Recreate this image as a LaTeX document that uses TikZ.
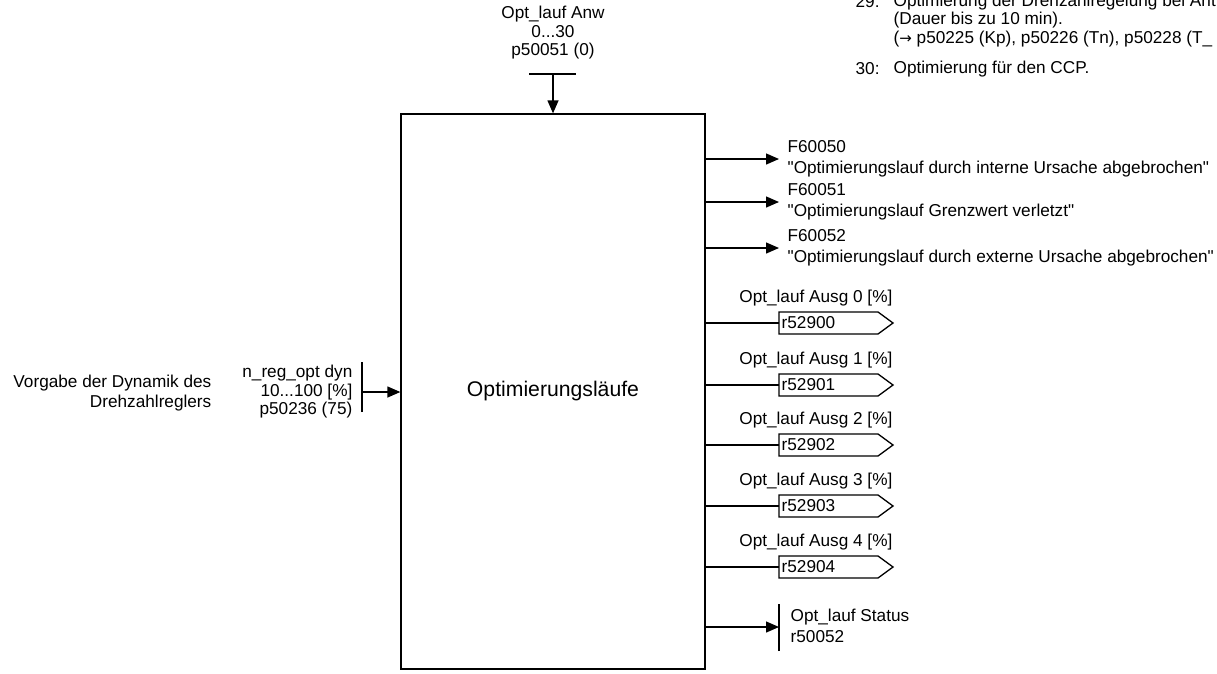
\documentclass[tikz,border=0pt]{standalone}
\usepackage{fontspec}
\setmainfont{Liberation Sans}[Ligatures=TeXOff]
\newfontfamily\arrowfont{DejaVu Sans}
\usetikzlibrary{arrows.meta}
\begin{document}
\begin{tikzpicture}[x=1pt,y=-1pt,
  line width=1.3pt,
  txt/.style={font=\fontsize{17.2}{18.5}\selectfont, inner sep=0pt, align=left},
  sig/.style={-{Triangle[length=13pt,width=11pt]}},
  bar/.style={line width=1.3pt}]
\useasboundingbox (0,0) rectangle (1217,673);

% main function block
\node[draw, minimum width=304pt, minimum height=555pt, inner sep=0pt,
      font=\fontsize{21.2}{24}\selectfont] (box) at (553,391.5) {Optimierungsläufe};

% parameter input at the top
\node[txt, align=center] (anw) at (553,33) {Opt\_lauf Anw\\0...30\\p50051 (0)};
\coordinate (anwbar) at (553,74);
\draw[bar] ([xshift=-24pt]anwbar) -- ([xshift=23pt]anwbar);
\draw[sig] (anwbar) -- (box.north);

% parameter input on the left
\node[txt, align=right, anchor=east] (dyn) at (353,392) {n\_reg\_opt dyn\\10...100 [\%]\\p50236 (75)};
\node[txt, align=right, anchor=east, font=\fontsize{17.2}{20}\selectfont] (dyndesc) at (212,393) {Vorgabe der Dynamik des\\Drehzahlreglers};
\coordinate (dynbar) at (362,392);
\draw[bar] ([yshift=-20pt]dynbar) -- ([yshift=30pt]dynbar);
\draw[sig] (dynbar) -- (dynbar -| box.west);

% fault outputs
\foreach \y/\code/\msg [count=\i] in {
    159/F60050/"Optimierungslauf durch interne Ursache abgebrochen",
    202/F60051/"Optimierungslauf Grenzwert verletzt",
    248/F60052/"Optimierungslauf durch externe Ursache abgebrochen"} {
  \coordinate (f\i) at (779,\y);
  \node[txt, anchor=west, font=\fontsize{17.2}{21.5}\selectfont] (ft\i) at (787,\y) {\code\\\msg};
  \draw[sig] (f\i -| box.east) -- (f\i);
}

% analog outputs (connector symbols)
\foreach \y/\num [count=\i from 0] in {323/r52900,385/r52901,445/r52902,506/r52903,567/r52904} {
  \coordinate (a\i) at (779,\y);
  \draw (a\i) -- ++(0,-11) -- ++(99,0) -- ++(15,11) -- ++(-15,11) -- ++(-99,0) -- cycle;
  \node[txt, anchor=west] (an\i) at ([xshift=2pt]a\i) {\num};
  \node[txt, anchor=east] (al\i) at (893,\y-25) {Opt\_lauf Ausg \i\ [\%]};
  \draw (a\i -| box.east) -- (a\i);
}

% status output
\coordinate (st) at (779,627);
\draw[bar] ([yshift=-24pt]st) -- ([yshift=23pt]st);
\draw[sig] (st -| box.east) -- (st);
\node[txt, anchor=west, font=\fontsize{17.2}{21}\selectfont] (stt) at (790,626) {Opt\_lauf Status\\r50052};

% notes at the top right
\node[txt, anchor=west] (n29) at (855,2) {29:};
\node[txt, anchor=north west] (n29t) at (893,-7) {Optimierung der Drehzahlregelung bei Ant\\(Dauer bis zu 10 min).\\({\arrowfont\fontsize{15}{18}\selectfont →} p50225 (Kp), p50226 (Tn), p50228 (T\_};
\node[txt, anchor=west] (n30) at (855,69) {30:};
\node[txt, anchor=west] (n30t) at (893,69) {Optimierung für den CCP.};
\end{tikzpicture}
\end{document}
